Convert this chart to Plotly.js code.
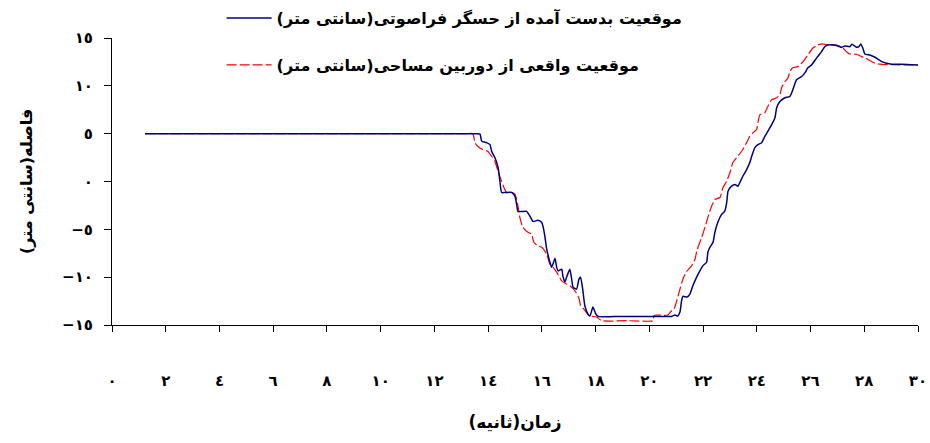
<!DOCTYPE html>
<html>
<head>
<meta charset="utf-8">
<script src="https://cdn.plot.ly/plotly-3.0.1.min.js"></script>
<style>html,body{margin:0;padding:0;background:#fff;}#chart{width:930px;height:443px;}</style>
</head>
<body>
<div id="chart"></div>
<script>
// Measured position (ultrasonic sensor), cm
const blueName = "موقعیت بدست آمده از حسگر فراصوتی(سانتی متر)\u200F";
const blueX = [1.23,6,10,12.5,13.3,13.61,13.70,13.76,13.94,14.07,14.13,14.25,14.37,14.44,14.50,14.63,14.88,15.00,15.06,15.11,15.25,15.43,15.56,15.67,15.85,15.99,16.04,16.11,16.18,16.30,16.36,16.41,16.49,16.55,16.60,16.74,16.78,16.86,16.92,17.04,17.11,17.16,17.29,17.38,17.44,17.52,17.60,17.71,17.79,17.90,18.01,18.09,18.91,19.8,20.83,20.95,21.06,21.14,21.20,21.25,21.40,21.51,21.62,21.76,21.88,21.99,22.13,22.18,22.25,22.37,22.44,22.55,22.69,22.81,22.88,22.93,23.06,23.19,23.30,23.37,23.48,23.62,23.74,23.81,23.93,24.04,24.18,24.30,24.41,24.55,24.67,24.74,24.86,25.05,25.23,25.34,25.48,25.67,25.79,25.90,26.04,26.23,26.41,26.53,26.65,26.83,27.02,27.16,27.28,27.46,27.54,27.71,27.80,27.87,27.95,28.02,28.21,28.40,28.51,28.65,28.83,29.02,29.39,30.00];
const blueY = [5,5,5,5,5,5,4.95,4.2,4.06,3.85,3.16,2.5,1.46,0.0,-1.15,-1.15,-1.15,-1.56,-2.4,-3.13,-3.13,-3.13,-3.65,-4.17,-4.06,-4.27,-4.66,-5.7,-7.08,-8.44,-8.96,-8.65,-8.02,-8.96,-9.34,-9.17,-9.86,-10.52,-10.0,-9.17,-10.21,-11.04,-11.25,-10.21,-10.0,-11.25,-12.99,-13.85,-14.06,-13.13,-13.85,-14.1,-14.1,-14.1,-14.1,-13.96,-14.06,-13.65,-12.47,-12.0,-12.08,-11.77,-10.9,-10.0,-9.34,-8.82,-8.44,-7.4,-6.9,-6.35,-5.31,-4.27,-3.44,-3.09,-2.19,-1.01,-0.49,-0.31,-0.49,-0.1,0.55,1.25,1.98,2.64,3.54,3.85,4.06,4.72,5.24,5.94,6.6,7.71,8.36,8.75,8.89,9.58,10.63,10.97,11.35,11.88,12.19,12.92,13.57,14.09,14.27,14.27,14.17,14.03,14.17,14.09,14.34,14.03,14.09,14.38,13.93,13.33,13.23,12.99,12.78,12.53,12.36,12.26,12.26,12.19];

// Actual position (surveying camera), cm
const redName = "موقعیت واقعی از دوربین مساحی(سانتی متر)\u200F";
const redX = [1.23,6,10,12.5,13.2,13.43,13.51,13.61,13.80,13.98,14.13,14.25,14.37,14.50,14.59,14.69,14.88,15.00,15.10,15.18,15.29,15.48,15.62,15.70,15.85,16.00,16.18,16.30,16.41,16.55,16.74,16.92,17.04,17.23,17.34,17.40,17.44,17.56,17.70,17.79,18.04,18.22,19.2,20.13,20.17,20.45,20.69,20.83,20.92,21.02,21.14,21.25,21.39,21.57,21.70,21.77,21.95,22.07,22.18,22.32,22.44,22.63,22.74,22.88,23.00,23.11,23.25,23.44,23.62,23.74,23.86,23.99,24.04,24.12,24.30,24.41,24.55,24.74,24.86,24.92,25.05,25.16,25.23,25.34,25.53,25.72,25.90,26.09,26.27,26.46,26.65,26.97,27.21,27.34,27.46,27.71,27.90,28.02,28.21,28.40,28.58,29.3,30.00];
const redY = [5,5,5,5,5,5,4.06,3.68,3.33,3.16,2.64,2.11,1.07,0.03,-0.63,-1.15,-1.15,-1.35,-2.4,-3.75,-4.79,-5.31,-5.5,-6.35,-6.74,-6.88,-7.6,-8.65,-8.96,-9.48,-10.39,-10.73,-10.9,-11.43,-11.95,-12.4,-12.99,-13.33,-13.85,-14.06,-14.17,-14.55,-14.55,-14.55,-14.0,-13.98,-13.96,-13.51,-13.33,-12.47,-11.25,-10.2,-9.4,-8.82,-8.13,-7.2,-5.83,-4.79,-3.75,-2.56,-1.88,-1.67,-0.63,0.03,0.94,1.98,2.5,3.16,4.06,4.72,5.1,5.42,6.15,6.98,7.19,7.84,8.54,8.75,9.06,9.79,10.45,10.83,11.49,11.88,12.01,12.53,13.23,13.96,14.27,14.38,14.27,14.27,13.93,13.57,13.33,13.3,13.05,12.95,12.64,12.36,12.26,12.2,12.19];

// Axis ticks (Arabic-Indic digits)
const xTickVals = [0,2,4,6,8,10,12,14,16,18,20,22,24,26,28,30];
const xTickText = ["٠","٢","٤","٦","٨","١٠","١٢","١٤","١٦","١٨","٢٠","٢٢","٢٤","٢٦","٢٨","٣٠"];
const yTickVals = [-15,-10,-5,0,5,10,15];
const yTickText = ["−١٥","−١٠","−٥","٠","٥","١٠","١٥"];
const xTitle = "زمان(ثانیه)\u200F";
const yTitle = "فاصله(سانتی متر)\u200F";

const FONT = "DejaVu Sans";

const traces = [
  {x: redX, y: redY, name: redName, type: "scatter", mode: "lines", legend: "legend2",
   line: {color: "#FF0000", width: 1.2, dash: "10px,3px", shape: "spline", smoothing: 0.5}},
  {x: blueX, y: blueY, name: blueName, type: "scatter", mode: "lines", legend: "legend",
   line: {color: "#000080", width: 1.5, shape: "spline", smoothing: 0.5}}
];

const layout = {
  width: 930, height: 443,
  margin: {l: 112, r: 12, t: 38, b: 118, autoexpand: false},
  paper_bgcolor: "#fff", plot_bgcolor: "#fff",
  font: {family: FONT, size: 14, color: "#000", weight: "bold"},
  showlegend: true,
  legend: {x: 0.136, y: 1.129, xanchor: "left", yanchor: "top", bgcolor: "rgba(0,0,0,0)", itemwidth: 45,
           font: {family: FONT, size: 16, weight: "bold"}},
  legend2: {x: 0.136, y: 0.965, xanchor: "left", yanchor: "top", bgcolor: "rgba(0,0,0,0)", itemwidth: 45,
           font: {family: FONT, size: 16, weight: "bold"}},
  xaxis: {range: [0, 30], tickvals: xTickVals, ticktext: xTickText, showgrid: false, zeroline: false,
          showline: true, linecolor: "#000", linewidth: 1, ticks: "outside", ticklen: 6, tickcolor: "#000",
          ticklabelstandoff: 36, tickfont: {family: FONT, size: 15, weight: "bold"},
          title: {text: xTitle, standoff: 27, font: {family: FONT, size: 17, weight: "bold"}}},
  yaxis: {range: [-15, 15], tickvals: yTickVals, ticktext: yTickText, showgrid: false, zeroline: false,
          showline: true, linecolor: "#000", linewidth: 1, ticks: "outside", ticklen: 7, tickcolor: "#000",
          ticklabelstandoff: 8, tickfont: {family: FONT, size: 15, weight: "bold"},
          title: {text: yTitle, standoff: 25, font: {family: FONT, size: 16, weight: "bold"}}}
};

Plotly.newPlot("chart", traces, layout, {displayModeBar: false, staticPlot: true});
</script>
</body>
</html>
